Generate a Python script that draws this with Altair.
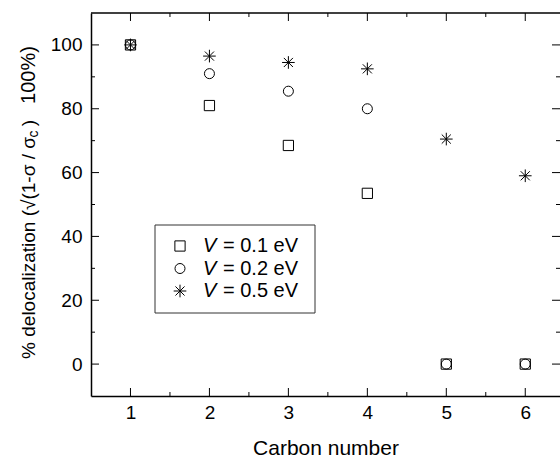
import altair as alt
import pandas as pd

# ---- data ----
carbon = [1, 2, 3, 4, 5, 6]
v01 = [100, 81, 68.5, 53.5, 0, 0]
v02 = [100, 91, 85.5, 80, 0, 0]
v05 = [100, 96.5, 94.5, 92.5, 70.5, 59]
v_values = ["0.1", "0.2", "0.5"]

x_major = [1, 2, 3, 4, 5, 6]
x_minor = [1.5, 2.5, 3.5, 4.5, 5.5]
y_major = [0, 20, 40, 60, 80, 100]
y_minor = [10, 30, 50, 70, 90]

title_parts = ["% delocalization (\u221a(1-\u03c3 / \u03c3", "c", ")", "100%)"]
x_title = "Carbon number"

# ---- style ----
W, H = 469, 383
FONT = "Liberation Sans"
STAR = "M0,-1L0,1M-1,0L1,0M-0.72,-0.72L0.72,0.72M-0.72,0.72L0.72,-0.72"

xs = alt.Scale(domain=[0.5, 6.44], nice=False, zero=False)
ys = alt.Scale(domain=[-10, 110], nice=False, zero=False)

X_AXIS = alt.Axis(
    values=x_major, title=x_title, ticks=False, grid=False,
    domainColor="black", domainWidth=1.5, labelFont=FONT, labelFontSize=19,
    labelColor="black", labelPadding=7, titleFont=FONT, titleFontSize=21,
    titleFontWeight="normal", titleColor="black", titlePadding=15)
Y_AXIS = alt.Axis(
    values=y_major, title=None, ticks=False, grid=False,
    domainColor="black", domainWidth=1.5, labelFont=FONT, labelFontSize=19,
    labelColor="black", labelPadding=9)


def series(vals, shape, size):
    df = pd.DataFrame({"c": carbon, "p": vals})
    return alt.Chart(df).mark_point(shape=shape, size=size, filled=False,
                                    stroke="black", strokeWidth=1, opacity=1).encode(
        x=alt.X("c:Q", scale=xs, axis=X_AXIS),
        y=alt.Y("p:Q", scale=ys, axis=Y_AXIS))


layers = [
    series(v01, "square", 105),
    series(v02, "circle", 100),
    series(v05, STAR, 160),
]


def xticks(vals, y0, y1):
    return alt.Chart(pd.DataFrame({"c": vals})).mark_rule(color="black", strokeWidth=1).encode(
        x=alt.X("c:Q", scale=xs, axis=X_AXIS), y=alt.value(y0), y2=alt.value(y1))


def yticks(vals, x0, x1):
    return alt.Chart(pd.DataFrame({"p": vals})).mark_rule(color="black", strokeWidth=1).encode(
        y=alt.Y("p:Q", scale=ys, axis=Y_AXIS), x=alt.value(x0), x2=alt.value(x1))


layers += [
    xticks(x_major, H, H - 8), xticks(x_minor, H, H - 4),
    xticks(x_major, 0, 8), xticks(x_minor, 0, 4),
    yticks(y_major, 0, 8), yticks(y_minor, 0, 4),
    yticks(y_major, W, W - 8), yticks(y_minor, W, W - 4),
]

one = pd.DataFrame({"k": [0]})
# top frame line
layers.append(alt.Chart(one).mark_rule(color="black", strokeWidth=1.5).encode(
    x=alt.value(0), x2=alt.value(W), y=alt.value(0)))

# legend box
layers.append(alt.Chart(one).mark_rect(fill="white", fillOpacity=0, stroke="#333333",
                                       strokeWidth=1).encode(
    x=alt.value(64), x2=alt.value(224), y=alt.value(212), y2=alt.value(300)))

leg_rows = [233, 255.5, 278]
leg_shapes = [("square", 105), ("circle", 100), (STAR, 160)]
for (shape, size), yrow, v in zip(leg_shapes, leg_rows, v_values):
    layers.append(alt.Chart(one).mark_point(shape=shape, size=size, filled=False, stroke="black",
                                            strokeWidth=1, opacity=1).encode(
        x=alt.value(89), y=alt.value(yrow)))
    layers.append(alt.Chart(pd.DataFrame({"t": ["V"]})).mark_text(
        font=FONT, fontSize=20, fontStyle="italic", align="left", baseline="middle",
        color="black").encode(x=alt.value(112), y=alt.value(yrow), text="t:N"))
    layers.append(alt.Chart(pd.DataFrame({"t": [f"= {v} eV"]})).mark_text(
        font=FONT, fontSize=20, align="left", baseline="middle",
        color="black").encode(x=alt.value(132), y=alt.value(yrow), text="t:N"))

# y-axis title pieces (rotated)
title_spec = [  # (text, fontSize, x baseline, y centre)
    (title_parts[0], 19, -56, 235),
    (title_parts[1], 14, -53, 121),
    (title_parts[2], 19, -56, 110),
    (title_parts[3], 20, -56, 62),
]
for t, fs, xb, yc in title_spec:
    layers.append(alt.Chart(pd.DataFrame({"t": [t]})).mark_text(
        font=FONT, fontSize=fs, angle=270, align="center", baseline="alphabetic",
        color="black").encode(x=alt.value(xb), y=alt.value(yc), text="t:N"))

chart = alt.layer(*layers).properties(
    width=W, height=H,
    autosize=alt.AutoSizeParams(type="none"),
    padding={"left": 91, "top": 13, "right": 0, "bottom": 61},
    background="white",
).configure_view(stroke=None)

chart.save("out.html", embed_options={"renderer": "svg", "actions": False})
